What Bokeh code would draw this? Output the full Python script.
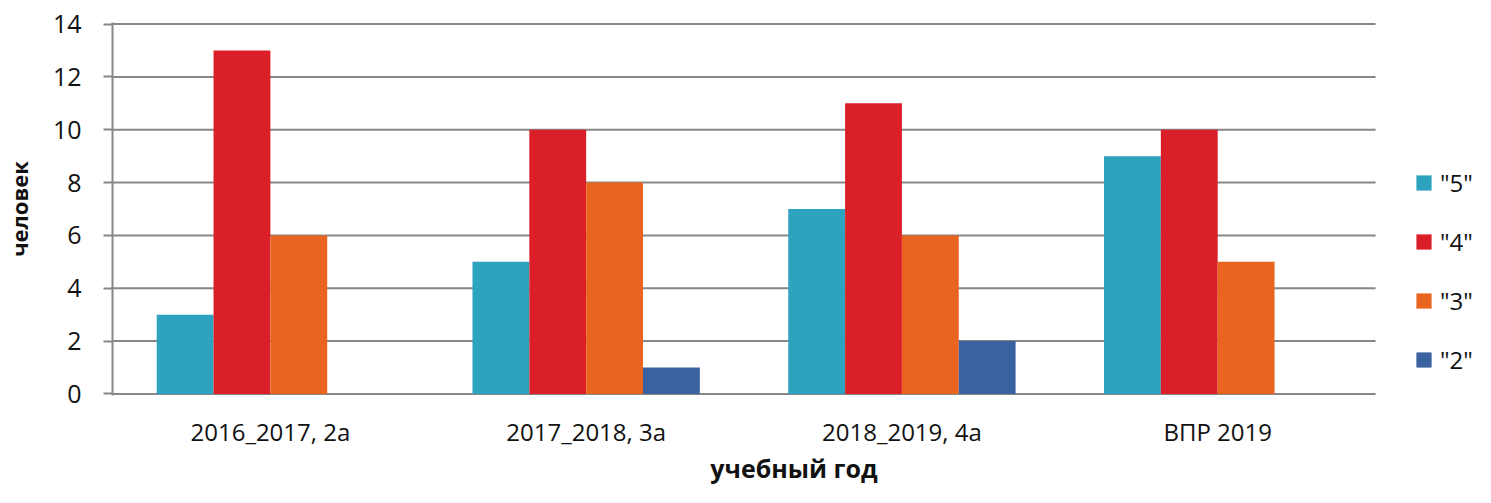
import numpy as np
from bokeh.plotting import figure
from bokeh.models import ColumnDataSource, Range1d, Legend, LegendItem, FixedTicker
from bokeh.embed import file_html
from bokeh.resources import INLINE

categories = ["2016_2017, 2а", "2017_2018, 3а", "2018_2019, 4а", "ВПР 2019"]
series_names = ['"5"', '"4"', '"3"', '"2"']
grade5 = [3, 5, 7, 9]
grade4 = [13, 10, 11, 10]
grade3 = [6, 8, 6, 5]
grade2 = [0, 1, 2, 0]
colors = ["#2DA3C0", "#DA1F29", "#E9641F", "#3A62A0"]
y_ticks = [0, 2, 4, 6, 8, 10, 12, 14]

FONT = "Open Sans"
GREY = "#878787"
TXT = "#111111"

n = len(categories)
centers = np.arange(n) + 0.5
series = [grade5, grade4, grade3, grade2]

p = figure(x_range=Range1d(0, n * 1364 / 1264), y_range=Range1d(-0.06, 14.06),
           width=1475, height=487, output_backend="svg", toolbar_location=None,
           min_border_left=106, min_border_right=0, min_border_top=22, min_border_bottom=0)
p.outline_line_color = None
p.xgrid.grid_line_color = None
p.ygrid.grid_line_color = None

# horizontal grid lines spanning the category area only
p.segment(x0=[0] * len(y_ticks), x1=[n] * len(y_ticks), y0=y_ticks, y1=y_ticks,
          line_color=GREY, line_width=2)

bw = 0.18
offs = [-1.5 * bw, -0.5 * bw, 0.5 * bw, 1.5 * bw]
renderers = []
for vals, o, col in zip(series, offs, colors):
    src = ColumnDataSource(dict(x=centers + o, top=vals))
    r = p.vbar(x="x", top="top", bottom=0, width=bw, source=src,
               fill_color=col, line_color=None)
    renderers.append(r)

p.yaxis.ticker = FixedTicker(ticks=y_ticks)
p.yaxis.axis_line_color = GREY
p.yaxis.axis_line_width = 2
p.yaxis.major_tick_line_color = GREY
p.yaxis.major_tick_line_width = 2
p.yaxis.major_tick_out = 9
p.yaxis.major_tick_in = 0
p.yaxis.minor_tick_line_color = None
p.yaxis.major_label_text_font = FONT
p.yaxis.major_label_text_font_size = "25px"
p.yaxis.major_label_text_color = TXT
p.yaxis.major_label_standoff = 22
p.yaxis.axis_label = "человек"
p.yaxis.axis_label_text_font = FONT
p.yaxis.axis_label_text_font_style = "bold"
p.yaxis.axis_label_text_font_size = "22px"
p.yaxis.axis_label_text_color = TXT
p.yaxis.axis_label_standoff = 16

p.xaxis.ticker = FixedTicker(ticks=list(centers))
p.xaxis.major_label_overrides = {float(c): lab for c, lab in zip(centers, categories)}
p.xaxis.axis_line_color = None
p.xaxis.major_tick_line_color = None
p.xaxis.minor_tick_line_color = None
p.xaxis.major_label_text_font = FONT
p.xaxis.major_label_text_font_size = "24px"
p.xaxis.major_label_text_color = TXT
p.xaxis.major_label_standoff = 13
p.xaxis.axis_label = "учебный год"
p.xaxis.axis_label_text_font = FONT
p.xaxis.axis_label_text_font_style = "bold"
p.xaxis.axis_label_text_font_size = "25px"
p.xaxis.axis_label_text_color = TXT
p.xaxis.axis_label_standoff = 0

items = [LegendItem(label=s, renderers=[r]) for s, r in zip(series_names, renderers)]
legend = Legend(items=items, location=(1302, 19), orientation="vertical",
                glyph_width=19, glyph_height=19, label_height=19, spacing=26,
                label_standoff=7, padding=0, margin=0,
                border_line_color=None, background_fill_alpha=0,
                label_text_font=FONT, label_text_font_size="24px", label_text_color=TXT)
p.add_layout(legend, "center")

open("out.html", "w").write(file_html(p, INLINE))
